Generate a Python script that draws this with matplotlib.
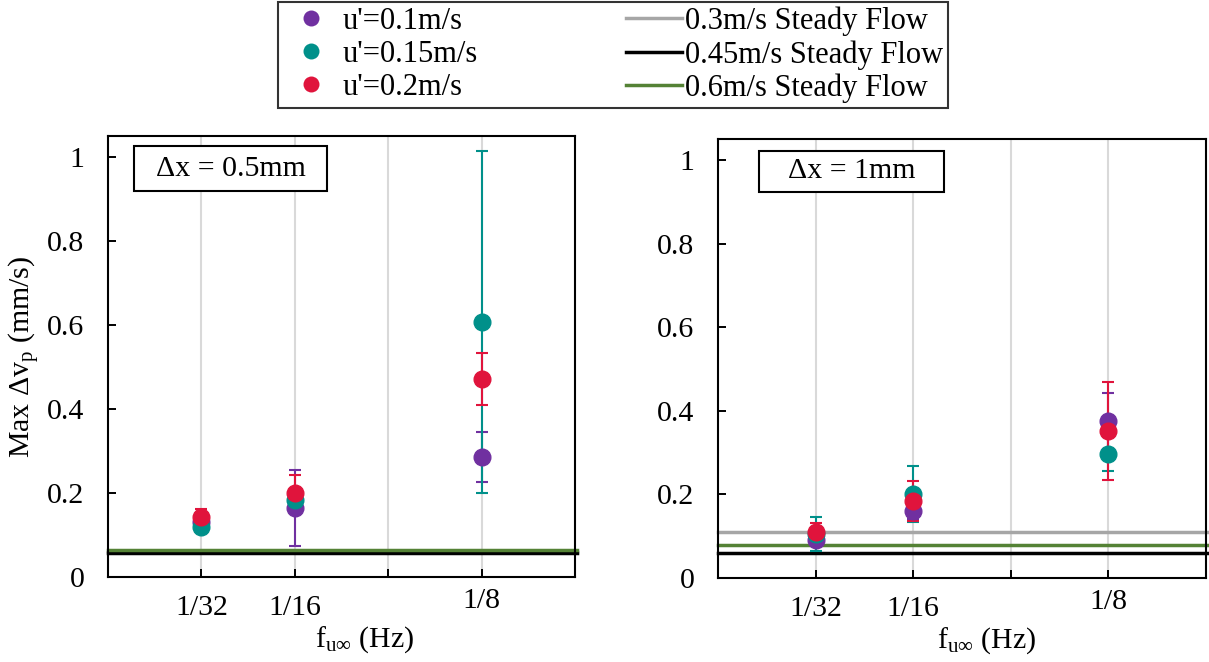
import matplotlib
matplotlib.use("Agg")
import matplotlib.pyplot as plt
from matplotlib.lines import Line2D
from matplotlib.patches import Rectangle

plt.rcParams['font.family'] = ['Liberation Serif', 'DejaVu Serif']
plt.rcParams['mathtext.fontset'] = 'custom'
plt.rcParams['mathtext.rm'] = 'Liberation Serif'
plt.rcParams['mathtext.it'] = 'Liberation Serif:italic'

FS = 21.5

# Forcing frequencies (Hz) and their tick labels
freqs = [1 / 32, 1 / 16, 1 / 8]
tick_labels = ['1/32', '1/16', '1/8']

series_names = ["u'=0.1m/s", "u'=0.15m/s", "u'=0.2m/s"]
series_colors = ['#7030A0', '#00908A', '#E0143C']

# Δx = 0.5 mm
dx05_mean_01 = [0.130, 0.165, 0.286]
dx05_err_01 = [0.015, 0.090, 0.060]
dx05_mean_015 = [0.120, 0.183, 0.607]
dx05_err_015 = [0.010, 0.020, 0.407]
dx05_mean_02 = [0.143, 0.200, 0.471]
dx05_err_02 = [0.019, 0.043, 0.062]

# Δx = 1 mm
dx1_mean_01 = [0.091, 0.160, 0.376]
dx1_err_01 = [0.010, 0.020, 0.067]
dx1_mean_015 = [0.105, 0.201, 0.297]
dx1_err_015 = [0.041, 0.067, 0.041]
dx1_mean_02 = [0.110, 0.184, 0.352]
dx1_err_02 = [0.022, 0.048, 0.117]

# Steady-flow reference levels
steady_names = ['0.3m/s Steady Flow', '0.45m/s Steady Flow', '0.6m/s Steady Flow']
steady_colors = ['#A6A6A6', '#000000', '#548235']
steady_dx05 = [0.060, 0.057, 0.065]
steady_dx1 = [0.110, 0.060, 0.079]

fig = plt.figure(figsize=(12.09, 6.62), dpi=100)
ax_l = fig.add_axes([108 / 1209, 1 - 577 / 662, 467 / 1209, 441 / 662])
ax_r = fig.add_axes([718 / 1209, 1 - 578 / 662, 488 / 1209, 439 / 662])

panels = [
    (ax_l, [dx05_mean_01, dx05_mean_015, dx05_mean_02],
     [dx05_err_01, dx05_err_015, dx05_err_02], steady_dx05, 'Δx = 0.5mm',
     (0.0557, 0.875, 0.413, 0.102)),
    (ax_r, [dx1_mean_01, dx1_mean_015, dx1_mean_02],
     [dx1_err_01, dx1_err_015, dx1_err_02], steady_dx1, 'Δx = 1mm',
     (0.084, 0.879, 0.379, 0.094)),
]

label_drop = [22, 22, 17]  # points below the axis for each tick label

for ax, means, errs, steady, title, box in panels:
    ax.set_xlim(0, 5 / 32)
    ax.set_ylim(0, 1.05)
    for k in range(1, 5):
        ax.axvline(k / 32, color='#D9D9D9', lw=1.5, zorder=0)
    for val, col in zip(steady, steady_colors):
        ax.axhline(val, color=col, lw=2.5, zorder=1, xmax=1.005, clip_on=False)
    for m, e, col in zip(means, errs, series_colors):
        ax.errorbar(freqs, m, yerr=e, fmt='o', color=col, ms=12,
                    elinewidth=1.5, capsize=4.5, capthick=1.5, zorder=3)
    ax.set_xticks([k / 32 for k in range(1, 5)])
    ax.set_xticklabels([])
    for xv, lbl, dy in zip(freqs, tick_labels, label_drop):
        ax.annotate(lbl, xy=(xv, 0), xycoords=ax.get_xaxis_transform(),
                    xytext=(0, -dy), textcoords='offset points',
                    ha='center', va='center', fontsize=FS)
    ax.set_yticks([0, 0.2, 0.4, 0.6, 0.8, 1.0])
    ax.set_yticklabels(['0', '0.2', '0.4', '0.6', '0.8', '1'])
    ax.tick_params(axis='both', direction='in', length=6, width=1.4,
                   labelsize=FS, pad=17)
    for sp in ax.spines.values():
        sp.set_linewidth(1.5)
    x0, y0, w, h = box
    ax.add_patch(Rectangle((x0, y0), w, h, transform=ax.transAxes,
                           facecolor='white', edgecolor='black', lw=1.5,
                           zorder=5))
    ax.text(x0 + w / 2, y0 + h / 2, title, transform=ax.transAxes,
            ha='center', va='center', fontsize=FS, zorder=6)
    ax.text(0.55, -0.143, r'f$_{\mathrm{u}\infty}$ (Hz)', transform=ax.transAxes,
            ha='center', va='center', fontsize=FS)

ax_l.text(-0.178, 0.5, r'Max Δv$_{\mathrm{p}}$ (mm/s)', transform=ax_l.transAxes,
          rotation=90, ha='center', va='center', fontsize=FS)

handles = [Line2D([], [], ls='none', marker='o', ms=11.5, mew=0, color=c)
           for c in series_colors]
handles += [Line2D([], [], color=c, lw=2.5) for c in steady_colors]
labels = series_names + steady_names
leg = fig.legend(handles, labels, ncol=2, loc='upper left',
                 bbox_to_anchor=(278 / 1209, 1 - 2 / 662), fontsize=22,
                 frameon=True, fancybox=False, edgecolor='black',
                 handlelength=1.85, handletextpad=0.1, columnspacing=4.85,
                 labelspacing=0.13, borderpad=0.15, borderaxespad=0)
leg.get_frame().set_linewidth(1.5)

fig.savefig('out.png', dpi=100)
